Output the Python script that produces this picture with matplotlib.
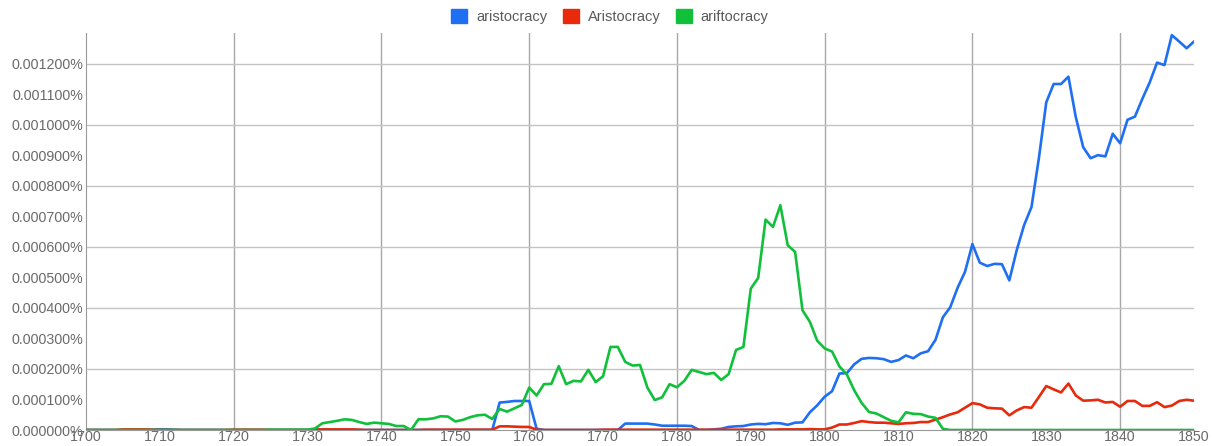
import matplotlib
matplotlib.use("Agg")
import matplotlib.pyplot as plt
from matplotlib.patches import Patch
import numpy as np

plt.rcParams['font.family'] = ['Liberation Sans', 'DejaVu Sans']

# years 1700..1850, values in units of 0.0001 %
years = np.arange(1700, 1851)

aristocracy = [
    0, 0, 0, 0, 0, 0, 0, 0, 0, 0.01,                           # 1700
    0.02, 0.02, 0.01, 0, 0, 0, 0, 0, 0, 0,                      # 1710
    0, 0, 0, 0, 0, 0, 0, 0, 0, 0,                               # 1720
    0, 0, 0, 0, 0, 0, 0, 0, 0, 0,                               # 1730
    0, 0, 0, 0, 0, 0, 0, 0, 0, 0,                               # 1740
    0, 0, 0, 0, 0, 0, 0.9, 0.92, 0.95, 0.95,                    # 1750
    0.95, 0.04, 0, 0, 0, 0, 0, 0, 0, 0,                         # 1760
    0, 0, 0, 0.21, 0.21, 0.21, 0.21, 0.18, 0.14, 0.14,          # 1770
    0.14, 0.14, 0.13, 0, 0, 0.02, 0.04, 0.1, 0.12, 0.13,        # 1780
    0.18, 0.2, 0.19, 0.23, 0.22, 0.17, 0.24, 0.25, 0.58, 0.81,  # 1790
    1.09, 1.27, 1.85, 1.86, 2.15, 2.33, 2.36, 2.35, 2.32, 2.23, # 1800
    2.29, 2.44, 2.35, 2.51, 2.58, 2.95, 3.69, 4.02, 4.66, 5.18, # 1810
    6.09, 5.48, 5.37, 5.44, 5.43, 4.90, 5.89, 6.71, 7.3, 8.9,   # 1820
    10.73, 11.33, 11.33, 11.57, 10.24, 9.26, 8.9, 9.0, 8.96, 9.7,   # 1830
    9.39, 10.16, 10.26, 10.84, 11.38, 12.03, 11.95, 12.93, 12.72, 12.5,  # 1840
    12.72,
]

Aristocracy = [
    0, 0, 0, 0, 0, 0.02, 0.02, 0.02, 0.02, 0.01,
    0, 0, 0, 0, 0, 0, 0, 0, 0, 0,
    0.01, 0.01, 0.01, 0.01, 0.01, 0, 0, 0, 0, 0,
    0, 0.02, 0.02, 0.02, 0.02, 0.02, 0.02, 0.01, 0, 0,
    0, 0, 0, 0, 0, 0, 0.01, 0.01, 0.01, 0.01,
    0.01, 0.01, 0.01, 0.01, 0.01, 0.01, 0.12, 0.12, 0.11, 0.1,
    0.1, 0.01, 0, 0, 0, 0, 0, 0, 0, 0,
    0.01, 0.01, 0.01, 0.01, 0.01, 0.01, 0.01, 0.01, 0.01, 0.01,
    0.01, 0.01, 0.01, 0.01, 0.01, 0.01, 0.01, 0.01, 0.01, 0.01,
    0.01, 0.01, 0.01, 0.01, 0.02, 0.02, 0.02, 0.02, 0.03, 0.02,
    0.02, 0.08, 0.18, 0.18, 0.23, 0.29, 0.26, 0.24, 0.24, 0.22,
    0.2, 0.22, 0.23, 0.26, 0.26, 0.34, 0.42, 0.51, 0.58, 0.73,
    0.88, 0.84, 0.73, 0.71, 0.70, 0.48, 0.64, 0.75, 0.73, 1.08,
    1.44, 1.33, 1.23, 1.52, 1.13, 0.96, 0.97, 0.99, 0.90, 0.92,
    0.76, 0.95, 0.95, 0.79, 0.79, 0.91, 0.75, 0.80, 0.95, 0.99,
    0.96,
]

ariftocracy = [
    0, 0, 0, 0, 0, 0, 0, 0, 0, 0,
    0, 0, 0, 0, 0, 0, 0, 0, 0, 0,
    0, 0, 0, 0, 0, 0.01, 0.01, 0.01, 0.01, 0.01,
    0.01, 0.05, 0.22, 0.26, 0.30, 0.35, 0.33, 0.26, 0.20, 0.24,
    0.22, 0.20, 0.13, 0.13, 0.0, 0.35, 0.35, 0.38, 0.45, 0.44,
    0.28, 0.33, 0.42, 0.48, 0.50, 0.36, 0.69, 0.60, 0.71, 0.82,
    1.39, 1.13, 1.50, 1.51, 2.09, 1.50, 1.61, 1.59, 1.97, 1.57,
    1.76, 2.72, 2.72, 2.23, 2.11, 2.13, 1.39, 0.98, 1.07, 1.50,
    1.40, 1.61, 1.97, 1.90, 1.83, 1.87, 1.64, 1.83, 2.62, 2.72,
    4.63, 4.98, 6.89, 6.65, 7.36, 6.05, 5.83, 3.92, 3.54, 2.92,
    2.67, 2.57, 2.08, 1.82, 1.30, 0.89, 0.59, 0.54, 0.42, 0.30,
    0.25, 0.58, 0.53, 0.52, 0.44, 0.40, 0.04, 0, 0, 0,
    0, 0, 0, 0, 0, 0, 0, 0, 0, 0,
    0, 0, 0, 0, 0, 0, 0, 0, 0, 0,
    0, 0, 0, 0, 0, 0, 0, 0, 0, 0,
    0,
]

labels = ["aristocracy", "Aristocracy", "ariftocracy"]
colors = ["#1f6ff2", "#e8290b", "#10c03b"]
series = [aristocracy, Aristocracy, ariftocracy]

fig = plt.figure(figsize=(12.21, 4.46), dpi=100)
ax = fig.add_axes([86/1221, 1 - 430/446, (1194 - 86)/1221, (430 - 33)/446])

for vals, col in zip(series, colors):
    ax.plot(years, vals, color=col, lw=1.9, solid_joinstyle='round', zorder=3)

ax.set_xlim(1700, 1850)
ax.set_ylim(0, 13)

# gridlines
for x in range(1720, 1850, 20):
    ax.axvline(x, color='#a8a8a8', lw=1, zorder=1)
for y in range(2, 13, 2):
    ax.axhline(y, color='#c4c4c4', lw=1, zorder=1)

ax.set_xticks(range(1700, 1851, 10))
ax.set_yticks(range(0, 13))
ax.set_yticklabels(["%.6f%%" % (v * 0.0001) for v in range(0, 13)])
ax.tick_params(axis='both', length=0, labelsize=10.3, labelcolor='#6a6a6a')
ax.tick_params(axis='y', pad=2)
ax.tick_params(axis='x', pad=0)

for s in ['top', 'right']:
    ax.spines[s].set_visible(False)
ax.spines['left'].set_color('#999999')
ax.spines['bottom'].set_color('#999999')
ax.spines['left'].set_zorder(2)

handles = [Patch(facecolor=c, edgecolor=c) for c in colors]
fig.legend(handles, labels, loc='center', bbox_to_anchor=(0.4995, 0.962),
           ncol=3, frameon=False, fontsize=10.5, labelcolor='#5a5a5a',
           handlelength=1.1, handleheight=1.1, handletextpad=0.6,
           columnspacing=1.07, borderpad=0)

fig.savefig("out.png", dpi=100)
